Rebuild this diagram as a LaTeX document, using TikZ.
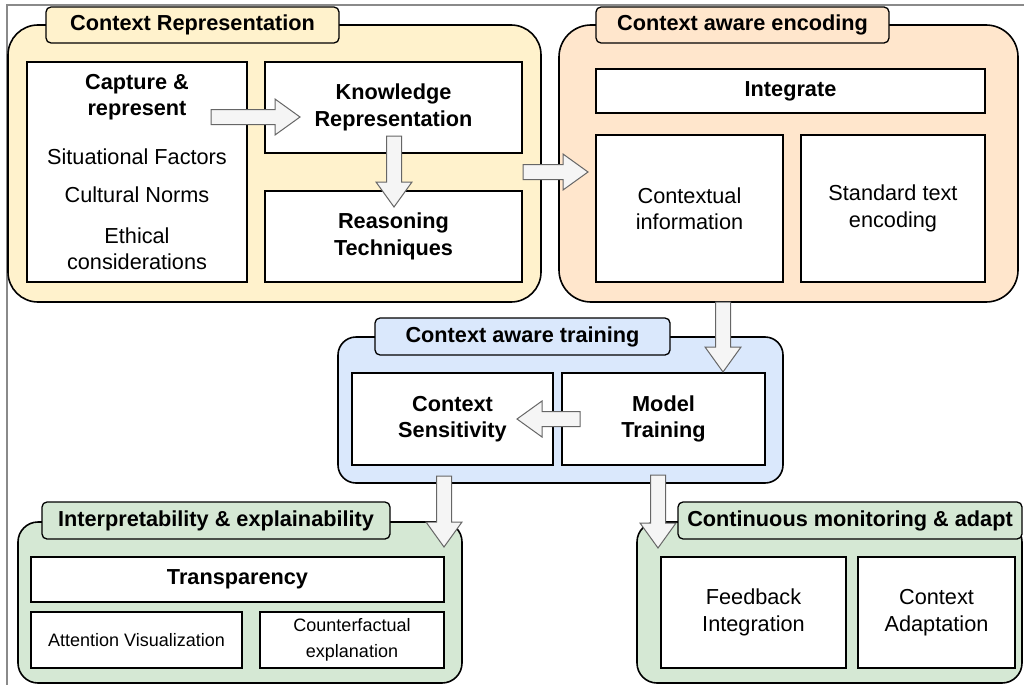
\documentclass[tikz,border=0pt]{standalone}
\usepackage{fontspec}
\setmainfont{Liberation Sans}
\usetikzlibrary{calc}

\definecolor{reprfill}{HTML}{FFF2CC}
\definecolor{encfill}{HTML}{FFE6CC}
\definecolor{trainfill}{HTML}{DAE8FC}
\definecolor{evalfill}{HTML}{D5E8D4}
\definecolor{arrowfill}{HTML}{F5F5F5}
\definecolor{arrowline}{HTML}{666666}
\definecolor{framegray}{HTML}{8A8A8A}

\newcommand\bodyfont{\fontsize{21.7}{26.5}\selectfont}
\newcommand\smallbodyfont{\fontsize{18}{26}\selectfont}

\tikzset{
  every node/.style={inner sep=0pt, outer sep=0pt, align=center, font=\bodyfont},
  container/.style={draw=black, line width=1.6pt, rounded corners=#1},
  tab/.style={draw=black, line width=1.3pt, rounded corners=5pt, font=\bodyfont\bfseries},
  panel/.style={draw=black, line width=1.5pt, fill=white},
  blockarrow/.style={draw=arrowline, line width=1pt, fill=arrowfill, line join=miter},
}

% \place[style]{name}{left}{top}{right}{bottom}{text}  (top/bottom measured downwards)
\newcommand\place[7][]{%
  \node[#1, anchor=north west, minimum width={(#5-#3)*1pt},
        minimum height={(#6-#4)*1pt}] (#2) at (#3,-#4) {#7};}

% wide hollow arrow from coordinate #1 to its tip at coordinate #2
\newcommand\blockarrow[2]{%
  \coordinate (ba-h) at ($(#2)!25pt!(#1)$);
  \draw[blockarrow]
    ($(#1)!7.5pt!90:(#2)$) --
    ($(ba-h)!7.5pt!-90:(#1)$) --
    ($(ba-h)!18pt!-90:(#1)$) --
    (#2) --
    ($(ba-h)!18pt!90:(#1)$) --
    ($(ba-h)!7.5pt!90:(#1)$) --
    ($(#1)!7.5pt!-90:(#2)$) -- cycle;
}

\begin{document}
\begin{tikzpicture}[x=1pt,y=1pt]
\useasboundingbox (0,0) rectangle (1024,-685);

% page frame
\draw[framegray, line width=1.5pt] (1024,-5) -- (7,-5) -- (7,-685);

% ---- Context representation
\place[container=30pt, fill=reprfill]{c1}{8}{25}{541}{302}{}
\place[tab, fill=reprfill]{t1}{46}{7}{339}{43}{Context Representation}
\place[panel]{cap}{27}{62}{247}{282}{\textbf{Capture \&}\\\textbf{represent}\\[22pt]Situational Factors\\[12pt]Cultural Norms\\[14pt]Ethical\\considerations}
\place[panel]{know}{265}{62}{522}{153}{\textbf{Knowledge}\\\textbf{Representation}}
\place[panel]{reas}{265}{191}{522}{282}{\textbf{Reasoning}\\\textbf{Techniques}}

% ---- Context aware encoding
\place[container=32pt, fill=encfill]{c2}{559}{25}{1018}{302}{}
\place[tab, fill=encfill]{t2}{596}{7}{889}{43}{Context aware encoding}
\place[panel]{integ}{596}{69}{985}{113}{\textbf{Integrate}}
\place[panel]{ctxinfo}{596}{135}{783}{282}{Contextual\\information}
\place[panel]{stdenc}{801}{135}{985}{282}{Standard text\\encoding}

% ---- Context aware training
\place[container=18pt, fill=trainfill]{c3}{338}{337}{783}{483}{}
\place[tab, fill=trainfill]{t3}{375}{318}{670}{355}{Context aware training}
\place[panel]{sens}{352}{373}{553}{465}{\textbf{Context}\\\textbf{Sensitivity}}
\place[panel]{model}{562}{373}{765}{465}{\textbf{Model}\\\textbf{Training}}

% ---- Interpretability & explainability
\place[container=20pt, fill=evalfill]{c4}{18}{522}{462}{683}{}
\place[tab, fill=evalfill]{t4}{42}{502}{390}{539}{Interpretability \& explainability}
\place[panel]{transp}{31}{557}{444}{602}{\textbf{Transparency}}
\place[panel, font=\smallbodyfont]{attn}{31}{612}{242}{668}{Attention Visualization}
\place[panel, font=\smallbodyfont]{counter}{260}{612}{444}{668}{Counterfactual\\explanation}

% ---- Continuous monitoring & adapt
\place[container=20pt, fill=evalfill]{c5}{637}{522}{1022}{683}{}
\place[tab, fill=evalfill]{t5}{678}{502}{1022}{539}{Continuous monitoring \& adapt}
\place[panel]{feed}{661}{557}{846}{668}{Feedback\\Integration}
\place[panel]{adapt}{858}{557}{1015}{668}{Context\\Adaptation}

% ---- arrow end points
\coordinate (a1s) at ($(cap.north east)+(-36,-55)$);
\coordinate (a1e) at ($(know.north west)+(35,-55)$);
\coordinate (a2s) at ($(know.south west)+(129,17)$);
\coordinate (a2e) at ($(reas.north west)+(129,-16)$);
\coordinate (a3s) at ($(c1.east)+(-18,-8.5)$);
\coordinate (a3e) at ($(c2.west)+(29,-8.5)$);
\coordinate (a4s) at ($(c2.south)+(-65.5,0)$);
\coordinate (a4e) at ($(model.north)+(59.5,1)$);
\coordinate (a5s) at ($(model.west)+(18,0)$);
\coordinate (a5e) at ($(sens.east)+(-36,0)$);
\coordinate (a6s) at ($(sens.south east)+(-109,-11)$);
\coordinate (a6e) at ($(c4.north east)+(-18,-25)$);
\coordinate (a7s) at ($(model.south west)+(96,-10)$);
\coordinate (a7e) at ($(c5.north west)+(21,-26)$);

\blockarrow{a1s}{a1e}
\blockarrow{a2s}{a2e}
\blockarrow{a3s}{a3e}
\blockarrow{a4s}{a4e}
\blockarrow{a5s}{a5e}
\blockarrow{a6s}{a6e}
\blockarrow{a7s}{a7e}
\end{tikzpicture}
\end{document}
